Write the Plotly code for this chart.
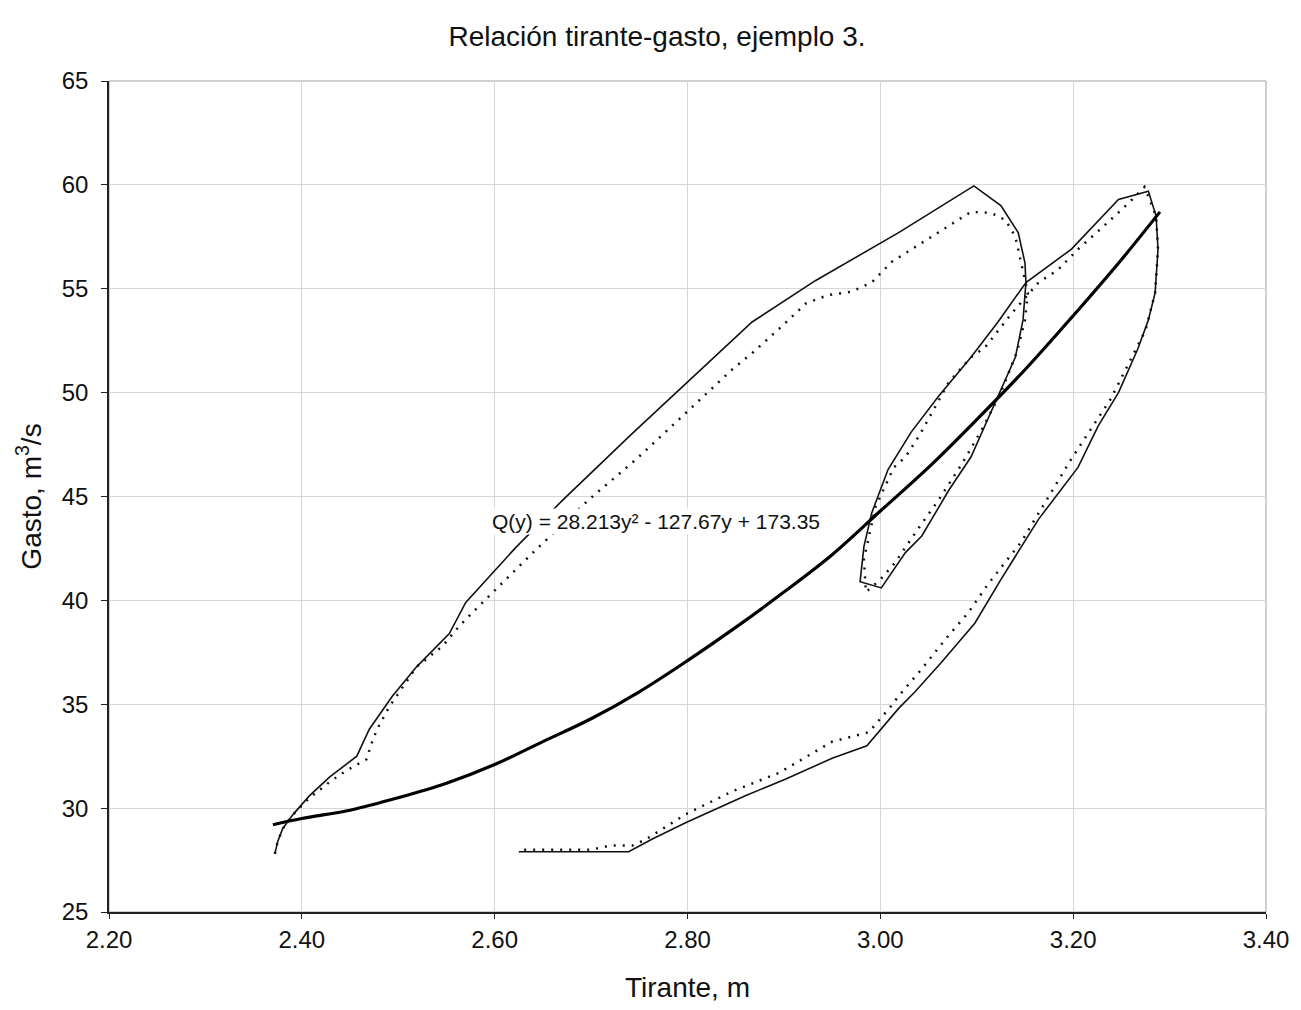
import plotly.graph_objects as go

# Solid curve (computed)
sol_x = [2.372, 2.375, 2.380, 2.391, 2.408, 2.429, 2.457, 2.470, 2.494, 2.519, 2.553, 2.570,
         2.622, 2.670, 2.742, 2.788, 2.867, 2.933, 3.019, 3.097, 3.125, 3.143, 3.150, 3.151,
         3.148, 3.140, 3.122, 3.094, 3.071, 3.043, 3.026, 3.001, 2.979, 2.983, 2.991, 3.008,
         3.032, 3.060, 3.094, 3.122, 3.151, 3.198, 3.247, 3.278, 3.286, 3.288, 3.285, 3.278,
         3.267, 3.247, 3.226, 3.205, 3.164, 3.125, 3.098, 3.063, 3.036, 3.019, 2.986, 2.950,
         2.902, 2.860, 2.798, 2.763, 2.739, 2.625]
sol_y = [27.8, 28.4, 29.0, 29.7, 30.6, 31.5, 32.5, 33.8, 35.4, 36.8, 38.4, 39.9,
         42.55, 44.8, 48.0, 50.0, 53.4, 55.4, 57.7, 59.95, 59.0, 57.7, 56.25, 55.3,
         53.5, 51.7, 49.8, 46.9, 45.3, 43.1, 42.3, 40.6, 40.9, 42.6, 44.2, 46.3,
         48.1, 49.8, 51.7, 53.4, 55.3, 56.9, 59.3, 59.7, 58.5, 56.9, 54.8, 53.5,
         52.1, 50.0, 48.4, 46.4, 43.9, 41.0, 38.9, 37.0, 35.6, 34.8, 33.0, 32.4,
         31.4, 30.6, 29.3, 28.5, 27.9, 27.9]

# Dotted curve (measured)
dot_x = [2.372, 2.375, 2.380, 2.391, 2.408, 2.430, 2.446, 2.467, 2.473, 2.478, 2.491, 2.519,
         2.546, 2.563, 2.581, 2.643, 2.698, 2.747, 2.784, 2.812, 2.846, 2.867, 2.898, 2.923,
         2.946, 2.970, 2.991, 3.012, 3.060, 3.094, 3.115, 3.130, 3.140, 3.148, 3.153, 3.150,
         3.142, 3.125, 3.105, 3.085, 3.060, 3.040, 3.015, 3.000, 2.985, 2.983, 2.995, 3.014,
         3.026, 3.040, 3.057, 3.071, 3.094, 3.109, 3.136, 3.164, 3.184, 3.205, 3.229, 3.257,
         3.274, 3.286, 3.288, 3.285, 3.275, 3.262, 3.239, 3.198, 3.146, 3.112, 3.091, 3.067,
         3.043, 3.019, 3.011, 2.988, 2.950, 2.895, 2.846, 2.798, 2.757, 2.743, 2.720, 2.700,
         2.625]
dot_y = [27.8, 28.4, 29.0, 29.7, 30.5, 31.3, 31.8, 32.35, 33.2, 33.8, 34.9, 36.8,
         37.8, 38.75, 39.6, 42.45, 44.86, 46.8, 48.4, 49.6, 51.1, 51.9, 53.2, 54.3,
         54.7, 54.86, 55.3, 56.3, 57.7, 58.7, 58.65, 58.3, 57.5, 55.9, 54.8, 53.5,
         52.0, 50.0, 48.2, 46.6, 44.8, 43.5, 41.8, 41.0, 40.4, 42.0, 44.5, 46.4,
         46.9, 47.9, 49.3, 50.5, 51.7, 52.2, 53.8, 55.3, 55.9, 56.9, 57.9, 59.1,
         59.9, 58.5, 56.9, 54.8, 53.0, 51.8, 49.7, 46.8, 42.8, 40.8, 39.4, 38.1,
         36.7, 35.4, 34.9, 33.65, 33.2, 31.7, 30.8, 29.7, 28.5, 28.2, 28.2, 28.0,
         28.0]

# Trend line values
trend_x = [2.37, 2.40, 2.45, 2.50, 2.55, 2.60, 2.65, 2.70, 2.75, 2.80, 2.85, 2.90,
           2.95, 3.00, 3.05, 3.10, 3.15, 3.20, 3.25, 3.29]
trend_y = [29.2, 29.5, 29.9, 30.5, 31.2, 32.1, 33.2, 34.3, 35.6, 37.1, 38.7, 40.4,
           42.2, 44.3, 46.4, 48.7, 51.1, 53.7, 56.4, 58.7]

x_ticks = [2.20, 2.40, 2.60, 2.80, 3.00, 3.20, 3.40]
y_ticks = [25, 30, 35, 40, 45, 50, 55, 60, 65]

title_text = "Relación tirante-gasto, ejemplo 3."
eq_text = "Q(y) = 28.213y² - 127.67y + 173.35"

FONT = "Liberation Sans, Arial, sans-serif"
TXT = "#111111"

fig = go.Figure()
fig.add_trace(go.Scatter(x=dot_x, y=dot_y, mode="lines",
                         line=dict(color=TXT, width=2.5, dash="2px,7px"),
                         showlegend=False))
fig.add_trace(go.Scatter(x=sol_x, y=sol_y, mode="lines",
                         line=dict(color=TXT, width=1.6),
                         showlegend=False))
fig.add_trace(go.Scatter(x=trend_x, y=trend_y, mode="lines", line_shape="spline",
                         line=dict(color="#000000", width=3.2),
                         showlegend=False))

fig.add_annotation(x=2.767, y=43.8, xref="x", yref="y", text=eq_text, showarrow=False,
                   font=dict(family=FONT, size=21, color=TXT), bgcolor="white")

fig.add_shape(type="rect", xref="paper", yref="paper", x0=0, y0=0, x1=1, y1=1,
              line=dict(color="#a0a0a0", width=1), layer="below")

fig.update_layout(
    width=1301, height=1010,
    margin=dict(l=109, r=33, t=81, b=97),
    paper_bgcolor="white", plot_bgcolor="white",
    title=dict(text=title_text, x=0.505, xref="container", y=1 - 36 / 1010, yref="container",
               xanchor="center", yanchor="middle",
               font=dict(family=FONT, size=28, color=TXT)),
    font=dict(family=FONT, color=TXT),
)
fig.update_xaxes(range=[2.20, 3.40], tickvals=x_ticks, ticktext=[f"{v:.2f}" for v in x_ticks],
                 showgrid=True, gridcolor="#d6d6d6", gridwidth=1, zeroline=False,
                 showline=True, linecolor="#222222", linewidth=1.5,
                 ticks="outside", ticklen=5, tickcolor="#222222",
                 tickfont=dict(size=24, family=FONT, color=TXT),
                 title=dict(text="Tirante, m", font=dict(size=28, family=FONT, color=TXT), standoff=26))
fig.update_yaxes(range=[25, 65], tickvals=y_ticks,
                 showgrid=True, gridcolor="#d6d6d6", gridwidth=1, zeroline=False,
                 showline=True, linecolor="#222222", linewidth=1.5,
                 ticks="outside", ticklen=6, tickcolor="#222222", ticklabelstandoff=8,
                 tickfont=dict(size=24, family=FONT, color=TXT),
                 title=dict(text="Gasto, m<sup>3</sup>/s", font=dict(size=28, family=FONT, color=TXT), standoff=12))

fig.write_html("out.html")
